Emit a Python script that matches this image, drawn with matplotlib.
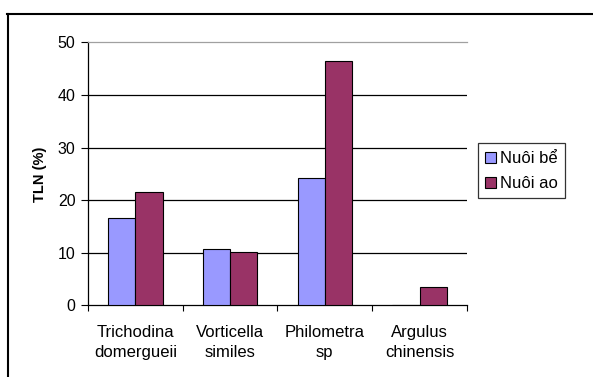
import numpy as np
import matplotlib
matplotlib.use('Agg')
import matplotlib.pyplot as plt
from matplotlib.lines import Line2D

plt.rcParams['font.family'] = ['Liberation Sans', 'DejaVu Sans']

# Data
categories = ['Trichodina\ndomergueii', 'Vorticella\nsimiles', 'Philometra\nsp', 'Argulus\nchinensis']
series_names = ['Nuôi bể', 'Nuôi ao']
nuoi_be = [16.6, 10.8, 24.3, 0.0]
nuoi_ao = [21.6, 10.2, 46.5, 3.5]
y_ticks = [0, 10, 20, 30, 40, 50]

colors = ['#9999FF', '#993366']

fig = plt.figure(figsize=(5.93, 3.77), dpi=100)
ax = fig.add_axes([0.1484, 0.1897, 0.639, 0.6976])

x = np.arange(len(categories))
w = 0.288
ax.bar(x - w / 2, nuoi_be, w, color=colors[0], edgecolor='black', linewidth=0.8,
       label=series_names[0], zorder=3)
ax.bar(x + w / 2, nuoi_ao, w, color=colors[1], edgecolor='black', linewidth=0.8,
       label=series_names[1], zorder=3)

ax.set_xlim(-0.5, len(categories) - 0.5)
ax.set_ylim(0, 50)
ax.set_yticks(y_ticks)
ax.tick_params(axis='y', labelsize=11.5, length=5, width=0.8, direction='out', pad=4)
ax.tick_params(axis='x', length=0, labelsize=12, pad=14)
ax.set_xticks(x)
ax.set_xticklabels(categories, linespacing=1.4)

# category separators as ticks
ax.set_xticks(np.arange(len(categories) + 1) - 0.5, minor=True)
ax.tick_params(axis='x', which='minor', length=4, width=0.8, direction='out')

for yv in y_ticks[1:-1]:
    ax.axhline(yv, color='black', linewidth=0.9, zorder=1)

ax.spines['right'].set_visible(False)
ax.spines['top'].set_color('#A0A0A0')
ax.spines['top'].set_linewidth(0.9)
ax.spines['left'].set_linewidth(0.9)
ax.spines['bottom'].set_linewidth(0.9)

ax.set_ylabel('TLN (%)', fontsize=10.5, fontweight='bold', labelpad=8)

leg = fig.legend(loc='upper left', bbox_to_anchor=(477.5 / 593, 1 - 143.5 / 377),
                 fontsize=12, frameon=True, fancybox=False, edgecolor='black',
                 handlelength=0.65, handleheight=0.65, handletextpad=0.25,
                 borderpad=0.45, labelspacing=0.6, borderaxespad=0)
leg.get_frame().set_linewidth(0.9)

# outer chart border (top and left visible)
fig.add_artist(Line2D([7 / 593, 1.0], [1 - 14 / 377, 1 - 14 / 377], color='black',
                      linewidth=1.5, transform=fig.transFigure))
fig.add_artist(Line2D([7.5 / 593, 7.5 / 593], [0, 1 - 14 / 377], color='black',
                      linewidth=1.5, transform=fig.transFigure))

fig.savefig('out.png', dpi=100)
